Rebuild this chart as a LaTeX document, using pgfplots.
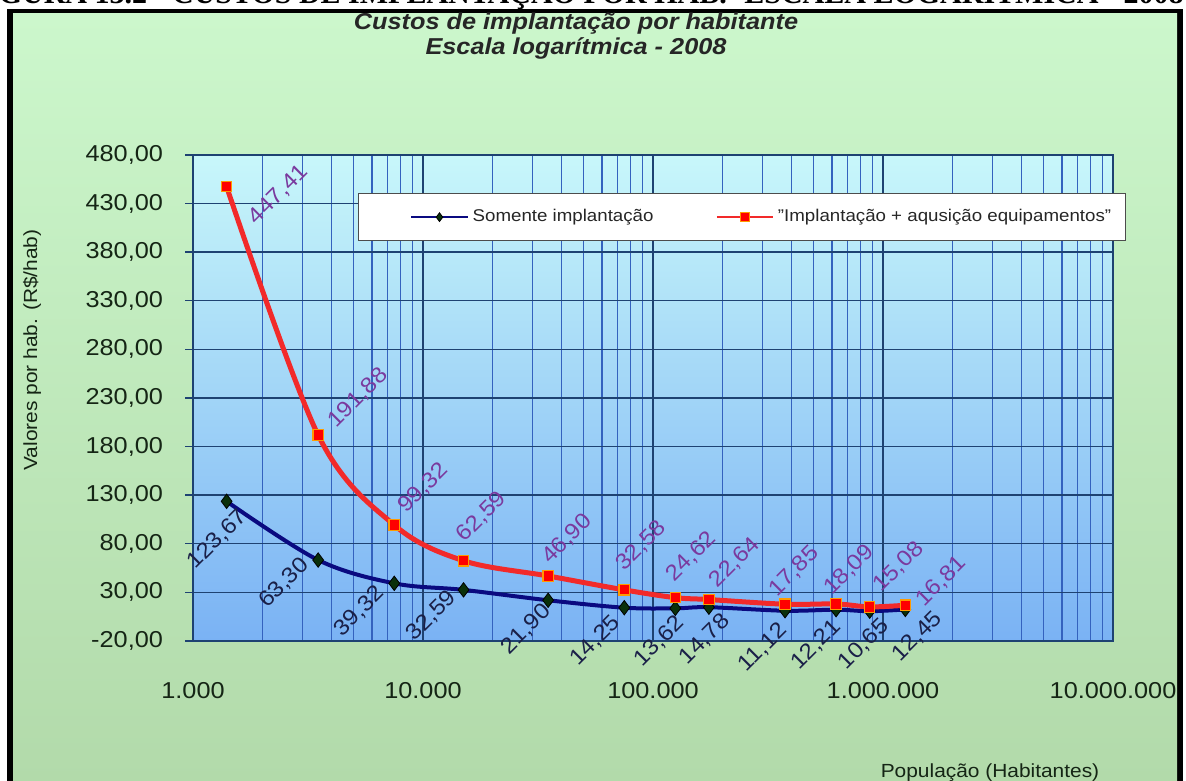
\documentclass[border=0pt]{standalone}
\usepackage{fontspec}
\setmainfont{Liberation Sans}[FakeStretch=1.1]
\newfontfamily\capfont{Liberation Serif}
\usepackage{pgfplots}
\pgfplotsset{compat=1.18}
\usepackage{pgfplotstable}

\definecolor{bgtop}{HTML}{CCF7CC}
\definecolor{bgbot}{HTML}{B2DAAA}
\definecolor{pltop}{HTML}{C8F7FA}
\definecolor{plbot}{HTML}{7AB2F4}
\definecolor{majgrid}{HTML}{1E4272}
\definecolor{mingrid}{HTML}{3462BE}
\definecolor{navyline}{HTML}{0A0A80}
\definecolor{redline}{HTML}{F22A2A}
\definecolor{dkgreen}{HTML}{0A300A}
\definecolor{sqorange}{HTML}{FF9A00}
\definecolor{labpurple}{HTML}{7A3A9E}
\definecolor{labnavy}{HTML}{1A2048}
\definecolor{ticktext}{HTML}{152515}

\pgfplotstableread{
x y dx dy
1400 447.41 26 -4
3500 191.88 20 18.5
7500 99.32 14.5 18.5
15000 62.59 9 22
35000 46.90 9.5 18.5
75000 32.58 8.5 22
125000 24.62 8 20.5
175000 22.64 13 18.5
375000 17.85 4.5 16.5
625000 18.09 6.5 17
875000 15.08 14.5 20
1250000 16.81 18 12
}\redtab

\pgfplotstableread{
x y dx dy
1400 123.67 -4.5 -19
3500 63.30 -17 -11.5
7500 39.32 -17.5 -14
15000 32.59 -16 -13
35000 21.90 -11 -14.5
75000 14.25 -14.5 -16.5
125000 13.62 -8 -16.5
175000 14.78 -2 -16
375000 11.12 -11 -18.5
625000 12.21 -10 -17.5
875000 10.65 -3 -16.5
1250000 12.45 6 -13.5
}\bluetab

\pgfkeys{/pgf/number format/.cd, fixed, fixed zerofill, precision=2, use comma, 1000 sep={.}, assume math mode=true}

\begin{document}
\begin{tikzpicture}[x=1pt,y=1pt]
\useasboundingbox (0,0) rectangle (593,390);
\begin{scope}
\clip (0,0) rectangle (593,390);
\fill[white] (0,0) rectangle (593,390);
\node[anchor=base east, font=\capfont\bfseries\fontsize{15}{17}\selectfont, inner sep=0] at (592,388) {FIGURA 13.2 - CUSTOS DE IMPLANTAÇÃO POR HAB.- ESCALA LOGARÍTMICA - 2008};
\fill[black] (3.5,-1) rectangle (591.5,385.5);
\shade[top color=bgtop, bottom color=bgbot] (6.5,-1) rectangle (588.5,383);
\end{scope}

\node[font=\bfseries\itshape\fontsize{11.5}{13}\selectfont, text=black!85] at (288,378) {Custos de implantação por habitante};
\node[font=\bfseries\itshape\fontsize{11.5}{13}\selectfont, text=black!85] at (288,366) {Escala logarítmica - 2008};
\node[rotate=90, font=\fontsize{9.5}{11}\selectfont, text=ticktext] at (16,215) {Valores por hab. (R\$/hab)};
\node[anchor=base, font=\fontsize{9.5}{11}\selectfont, text=ticktext] at (495,1.5) {População (Habitantes)};

\begin{axis}[
  at={(96.5pt,69.5pt)}, anchor=south west,
  scale only axis, width=460pt, height=243pt,
  xmode=log, log basis x=10,
  xmin=1000, xmax=10000000,
  ymin=-20, ymax=480,
  xtick={1000,10000,100000,1000000,10000000},
  minor xtick={2000,3000,4000,5000,6000,7000,8000,9000,
    20000,30000,40000,50000,60000,70000,80000,90000,
    200000,300000,400000,500000,600000,700000,800000,900000,
    2000000,3000000,4000000,5000000,6000000,7000000,8000000,9000000},
  xticklabels={1.000,10.000,100.000,1.000.000,10.000.000},
  ytick={-20,30,...,480},
  grid=both,
  major grid style={draw=majgrid, line width=0.7pt},
  minor grid style={draw=mingrid, line width=0.7pt},
  axis line style={draw=majgrid, line width=0.8pt},
  axis background/.style={shade, top color=pltop, bottom color=plbot},
  tick align=outside, major tick length=4pt, minor tick length=0pt,
  ytick pos=left,
  xtick style={draw=none},
  ytick style={draw=majgrid, line width=0.7pt},
  yticklabel style={font=\fontsize{11.5}{13}\selectfont, text=ticktext, xshift=-7.5pt},
  xticklabel style={font=\fontsize{11.5}{13}\selectfont, text=ticktext, yshift=-13pt},
  clip=false,
  legend columns=2,
  legend style={at={(0.179,0.922)}, anchor=north west, draw=black!70, fill=white, line width=0.6pt,
    font=\fontsize{8.5}{10}\selectfont, text=black!85, inner ysep=6pt, inner xsep=5pt,
    /tikz/every even column/.append style={column sep=8pt}},
  legend cell align=left,
  legend image code/.code={\path (-21pt,0pt); \draw[mark repeat=2,mark phase=2,#1] plot coordinates {(0pt,0pt) (14pt,0pt) (28pt,0pt)};},
  legend image post style={line width=1.2pt, mark size=2.2pt},
  visualization depends on={\thisrow{dx}\as\ldx},
  visualization depends on={\thisrow{dy}\as\ldy},
  nodes near coords,
  point meta=y,
  every node near coord/.append style={anchor=center, xshift=\ldx pt, yshift=\ldy pt, rotate=45, font=\fontsize{11}{12}\selectfont},
]
\addplot[navyline, line width=2pt, smooth, tension=0.55, mark=diamond*, mark size=3.6pt,
  mark options={fill=dkgreen, draw=black, line width=0.4pt},
  every node near coord/.append style={text=labnavy}] table[x=x,y=y] {\bluetab};
\addlegendentry{Somente implantação}
\addplot[redline, line width=2.5pt, smooth, tension=0.55, mark=square*, mark size=2.6pt,
  mark options={fill=red, draw=sqorange, line width=0.6pt},
  every node near coord/.append style={text=labpurple}] table[x=x,y=y] {\redtab};
\addlegendentry{\symbol{34}Implantação + aqusição equipamentos\symbol{34}}
\end{axis}
\end{tikzpicture}
\end{document}
